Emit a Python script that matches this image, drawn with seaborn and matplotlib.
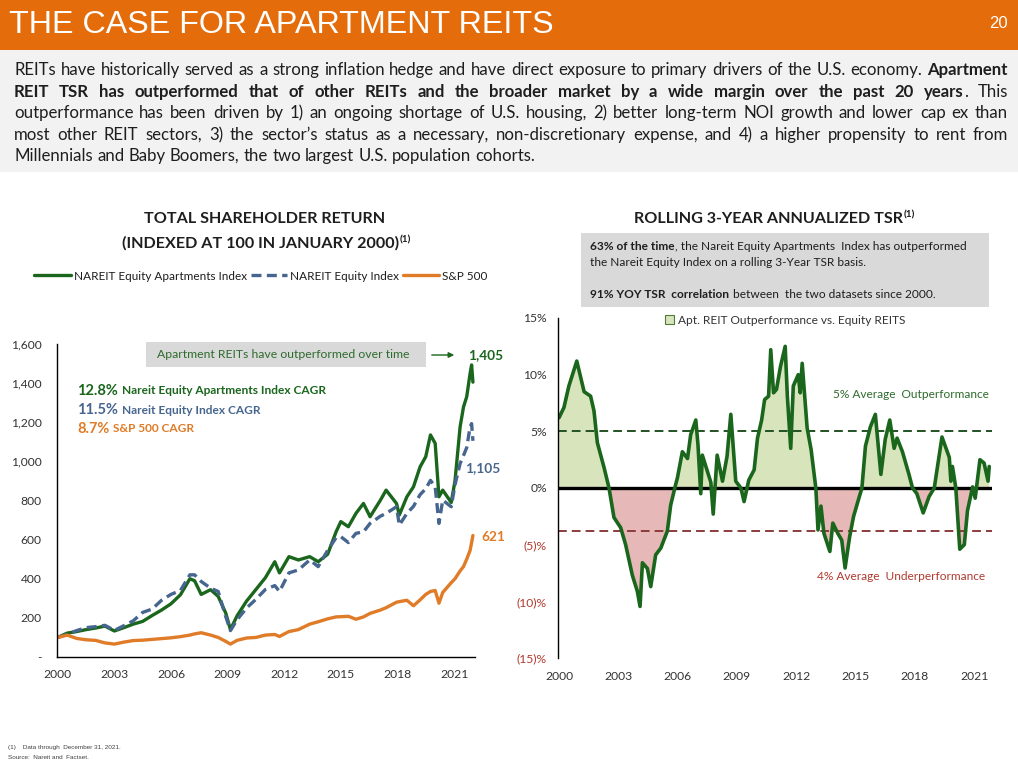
import matplotlib
matplotlib.use("Agg")
import matplotlib.pyplot as plt
from matplotlib.patches import Rectangle, Patch, FancyArrowPatch
from matplotlib.lines import Line2D
from matplotlib import font_manager
import seaborn as sns
import numpy as np
import pandas as pd

# ---------------------------------------------------------------- data
tsr_dates = [2000.0, 2000.5, 2001.0, 2001.5, 2002.0, 2002.5, 2003.0, 2003.5, 2004.0, 2004.5,
             2005.0, 2005.5, 2006.0, 2006.5, 2007.0, 2007.25, 2007.6, 2008.1, 2008.5, 2008.9,
             2009.15, 2009.5, 2010.0, 2010.5, 2011.0, 2011.5, 2011.75, 2012.25, 2012.75, 2013.35,
             2013.8, 2014.3, 2014.75, 2015.0, 2015.4, 2015.8, 2016.2, 2016.55, 2017.1, 2017.4,
             2017.95, 2018.1, 2018.5, 2018.85, 2019.2, 2019.5, 2019.75, 2020.0, 2020.2, 2020.4,
             2020.85, 2021.05, 2021.32, 2021.5, 2021.67, 2021.85, 2021.93, 2022.0]
apt_index = [100, 122, 130, 140, 148, 158, 133, 150, 168, 182,
             212, 240, 272, 318, 400, 390, 320, 344, 310, 225,
             140, 210, 285, 345, 405, 487, 430, 513, 496, 513,
             487, 525, 640, 692, 666, 734, 785, 717, 802, 853,
             785, 726, 819, 870, 972, 1024, 1135, 1092, 819, 853,
             790, 900, 1176, 1278, 1330, 1449, 1493, 1405]
equity_index = [100, 115, 135, 150, 155, 162, 136, 160, 185, 228,
                245, 290, 320, 340, 420, 420, 386, 352, 335, 207,
                135, 190, 250, 295, 345, 365, 335, 430, 445, 496,
                462, 545, 610, 615, 585, 632, 640, 683, 720, 734,
                768, 674, 734, 770, 830, 860, 903, 870, 683, 802,
                768, 880, 989, 1030, 1070, 1176, 1193, 1105]
sp500_index = [100, 112, 95, 88, 85, 72, 66, 76, 84, 86,
               90, 94, 98, 104, 112, 118, 124, 112, 100, 80,
               66, 85, 97, 100, 112, 115, 105, 130, 140, 168,
               180, 195, 205, 206, 208, 193, 205, 223, 240, 252,
               280, 283, 290, 262, 292, 320, 335, 340, 275, 330,
               380, 400, 440, 462, 500, 545, 585, 621]
series_names = ["NAREIT Equity Apartments Index", "NAREIT Equity Index", "S&P 500"]
end_labels = ["1,405", "1,105", "621"]
cagr_values = ["12.8%", "11.5%", "8.7%"]
cagr_names = ["Nareit Equity Apartments Index CAGR", "Nareit Equity Index CAGR", "S&P 500 CAGR"]
tsr_yticks = [0, 200, 400, 600, 800, 1000, 1200, 1400, 1600]
tsr_yticklabels = ["-", "200", "400", "600", "800", "1,000", "1,200", "1,400", "1,600"]
year_ticks = [2000, 2003, 2006, 2009, 2012, 2015, 2018, 2021]

roll_dates = [2000.0, 2000.25, 2000.5, 2000.9, 2001.27, 2001.6, 2001.77, 2001.94, 2002.28, 2002.53,
              2002.78, 2003.12, 2003.37, 2003.71, 2003.96, 2004.1, 2004.22, 2004.47, 2004.64, 2004.89,
              2005.15, 2005.48, 2005.65, 2005.9, 2005.99, 2006.24, 2006.5, 2006.66, 2006.92, 2007.03,
              2007.17, 2007.25, 2007.5, 2007.68, 2007.8, 2008.0, 2008.27, 2008.5, 2008.69, 2008.94,
              2009.2, 2009.36, 2009.6, 2009.87, 2010.04, 2010.25, 2010.4, 2010.6, 2010.71, 2010.85,
              2011.0, 2011.2, 2011.44, 2011.55, 2011.72, 2011.85, 2012.1, 2012.2, 2012.3, 2012.55,
              2012.75, 2012.99, 2013.1, 2013.25, 2013.4, 2013.7, 2013.85, 2014.1, 2014.3, 2014.47,
              2014.7, 2014.9, 2015.1, 2015.32, 2015.5, 2015.75, 2016.0, 2016.28, 2016.5, 2016.73,
              2016.95, 2017.1, 2017.37, 2017.7, 2017.88, 2018.1, 2018.42, 2018.72, 2018.98, 2019.37,
              2019.74, 2019.82, 2019.9, 2020.07, 2020.27, 2020.5, 2020.66, 2020.92, 2021.05, 2021.29,
              2021.5, 2021.7, 2021.76]
roll_outperf = [6.2, 7.1, 9.0, 11.2, 8.5, 8.1, 6.8, 4.0, 1.8, 0.0,
                -2.6, -3.5, -5.0, -7.7, -9.1, -10.45, -6.6, -7.1, -8.7, -5.9,
                -5.3, -3.8, -1.5, 0.3, 0.9, 3.2, 2.6, 4.7, 6.0, 3.8,
                -0.5, 2.9, 1.5, 0.5, -2.3, 2.9, 0.6, 2.8, 6.5, 0.6,
                0.0, -1.2, 0.7, 1.6, 4.4, 6.0, 7.8, 8.1, 12.2, 8.4,
                8.7, 10.7, 12.5, 8.1, 3.5, 9.0, 10.0, 8.4, 11.0, 5.3,
                3.4, 0.0, -3.7, -1.6, -4.0, -5.6, -3.1, -4.0, -4.6, -7.06,
                -4.3, -2.5, -1.3, 0.0, 3.7, 5.4, 6.5, 1.2, 4.3, 6.0,
                3.5, 4.4, 3.2, 1.2, 0.0, -0.5, -2.2, -0.75, 0.0, 4.5,
                2.7, 0.6, 1.9, 0.0, -5.4, -5.0, -2.0, 0.1, -0.9, 2.5,
                2.2, 0.6, 1.9]
avg_outperf = 5.0
avg_underperf = -3.8
roll_yticks = [-15, -10, -5, 0, 5, 10, 15]
roll_yticklabels = ["(15)%", "(10)%", "(5)%", "0%", "5%", "10%", "15%"]
roll_legend_label = "Apt. REIT Outperformance vs. Equity REITS"

# ---------------------------------------------------------------- style
W, H = 1018, 768
sns.set_theme(style="white")
plt.rcParams['font.family'] = ['Lato', 'DejaVu Sans']

HEADER = "#E46C0A"
GREEN = "#1A661C"
BLUE = "#46658F"
ORANGE = "#E07B27"
LIGHT_GREEN = "#D8E4BC"
LIGHT_RED = "#E6B8B7"
DARK_RED = "#B03A2E"
TXT = "#1E1E1E"
TICK = "#333333"
SMALL = 8.7

fig = plt.figure(figsize=(W / 100, H / 100), dpi=100)
fig.patch.set_facecolor("white")
renderer = fig.canvas.get_renderer()


def fx(px):
    return px / W


def fy(py):
    return 1 - py / H


def measure(s, **kw):
    t = fig.text(0, 0, s, **kw)
    w = t.get_window_extent(renderer).width
    t.remove()
    return w


names = {f.name for f in font_manager.fontManager.ttflist}
narrow = ['Liberation Sans Narrow', 'Liberation Sans'] if 'Liberation Sans Narrow' in names else ['Liberation Sans']

# ---------------------------------------------------------------- header
fig.add_artist(Rectangle((0, fy(50)), 1, 50 / H, transform=fig.transFigure,
                         facecolor=HEADER, edgecolor="none", zorder=0))
title = "THE CASE FOR APARTMENT REITS"
tw = measure(title, fontsize=22, family=narrow)
fig.text(fx(9), fy(25), title, fontsize=22 * 544 / tw, family=narrow, color="white",
         va="center", ha="left")
fig.text(fx(998), fy(24), "20", fontsize=12, family=narrow, color="white", va="center", ha="center")

# ---------------------------------------------------------------- paragraph
fig.add_artist(Rectangle((0, fy(172)), 1, 122 / H, transform=fig.transFigure,
                         facecolor="#F2F2F2", edgecolor="none", zorder=0))
para = [
    "REITs have historically served as a strong inflation hedge and have direct exposure to primary drivers of the U.S. economy. **Apartment**",
    "**REIT TSR has outperformed that of other REITs and the broader market by a wide margin over the past 20 years**. This",
    "outperformance has been driven by 1) an ongoing shortage of U.S. housing, 2) better long-term NOI growth and lower cap ex than",
    "most other REIT sectors, 3) the sector\u2019s status as a necessary, non-discretionary expense, and 4) a higher propensity to rent from",
    "Millennials and Baby Boomers, the two largest U.S. population cohorts.",
]


def parse(line):
    words, bold = [], False
    for raw in line.split(" "):
        pieces = []
        for i, p in enumerate(raw.split("**")):
            if i > 0:
                bold = not bold
            if p:
                pieces.append((p, bold))
        words.append(pieces)
    return words


def draw_para(lines, x0, x1, baselines, size, color):
    parsed = [parse(l) for l in lines]
    sp = measure("n n", fontsize=size) - measure("nn", fontsize=size)
    allw = []
    for words in parsed:
        allw.append([[measure(p, fontsize=size, fontweight="bold" if b else "normal") for p, b in w]
                     for w in words])
    nat = max(sum(sum(ws) for ws in wl) + sp * (len(wl) - 1) for wl in allw[:-1])
    scale = min(1.0, (x1 - x0) * 0.99 / nat)
    size *= scale
    sp *= scale
    for i, (words, wl, yb) in enumerate(zip(parsed, allw, baselines)):
        wl = [[v * scale for v in ws] for ws in wl]
        tot = sum(sum(ws) for ws in wl)
        gap = sp if i == len(parsed) - 1 else (x1 - x0 - tot) / (len(words) - 1)
        x = x0
        for w, ws in zip(words, wl):
            for (p, b), pw in zip(w, ws):
                fig.text(fx(x), fy(yb), p, fontsize=size, fontweight="bold" if b else "normal",
                         color=color, va="baseline", ha="left")
                x += pw
            x += gap


draw_para(para, 14, 1008, [75, 97, 118, 140, 161], 12.5, TXT)

# ---------------------------------------------------------------- left chart
axL = fig.add_axes([fx(57), fy(657), (475 - 57) / W, (657 - 344) / H])
axL.set_facecolor("none")
df = pd.DataFrame({
    "date": tsr_dates * 3,
    "value": apt_index + equity_index + sp500_index,
    "series": [series_names[0]] * len(tsr_dates) + [series_names[1]] * len(tsr_dates)
              + [series_names[2]] * len(tsr_dates),
})
palette = {series_names[0]: GREEN, series_names[1]: BLUE, series_names[2]: ORANGE}
dashes = {series_names[0]: "", series_names[1]: (3, 1.6), series_names[2]: ""}
sns.lineplot(data=df, x="date", y="value", hue="series", style="series", hue_order=series_names,
             style_order=series_names, palette=palette, dashes=dashes, linewidth=2.4,
             ax=axL, legend=False)
axL.set_xlim(1999.96, 2022.11)
axL.set_ylim(0, 1600)
axL.set_xticks(year_ticks)
axL.set_xticklabels([str(y) for y in year_ticks])
axL.set_yticks(tsr_yticks)
axL.set_yticklabels(tsr_yticklabels)
axL.set_xlabel("")
axL.set_ylabel("")
sns.despine(ax=axL)
for s in ["left", "bottom"]:
    axL.spines[s].set_color("black")
    axL.spines[s].set_linewidth(1.0)
axL.tick_params(axis="y", length=0, pad=11, labelsize=SMALL, labelcolor=TICK)
axL.tick_params(axis="x", length=0, pad=9, labelsize=SMALL, labelcolor=TICK)


def centered_with_sup(cx, yb, main, size, sup="(1)"):
    w1 = measure(main, fontsize=size, fontweight="bold")
    w2 = measure(sup, fontsize=size * 0.62, fontweight="bold")
    x0 = cx - (w1 + w2) / 2
    fig.text(fx(x0), fy(yb), main, fontsize=size, fontweight="bold", color=TXT, va="baseline")
    fig.text(fx(x0 + w1 + 1), fy(yb - 6), sup, fontsize=size * 0.62, fontweight="bold",
             color=TXT, va="baseline")


ts = 11 * 278 / measure("(INDEXED AT 100 IN JANUARY 2000)", fontsize=11, fontweight="bold")
fig.text(fx(265), fy(223), "TOTAL SHAREHOLDER RETURN", fontsize=ts, fontweight="bold",
         color=TXT, va="baseline", ha="center")
centered_with_sup(266, 248, "(INDEXED AT 100 IN JANUARY 2000)", ts)

handles = [Line2D([], [], color=GREEN, lw=2.4),
           Line2D([], [], color=BLUE, lw=2.4, dashes=(3, 1.6)),
           Line2D([], [], color=ORANGE, lw=2.4)]
fig.legend(handles, series_names, loc="center", bbox_to_anchor=(fx(261), fy(276)),
           bbox_transform=fig.transFigure, ncol=3, frameon=False, fontsize=8.5,
           handlelength=3.1, handletextpad=0.25, columnspacing=0.3, labelcolor=TXT)

# annotation box and arrow
fig.add_artist(Rectangle((fx(146), fy(367)), (426 - 146) / W, 25 / H, transform=fig.transFigure,
                         facecolor="#D9D9D9", edgecolor="none"))
fig.text(fx(157), fy(355), "Apartment REITs have outperformed over time", fontsize=8.8,
         color="#2E6B2E", va="center", ha="left")
fig.add_artist(FancyArrowPatch((fx(429), fy(355)), (fx(457), fy(355)), transform=fig.transFigure,
                               arrowstyle="-|>", mutation_scale=8, color=GREEN, lw=1))
end_pos = [(486, 355), (483, 468), (493, 537)]
for lab, (x, y), c in zip(end_labels, end_pos, [GREEN, BLUE, ORANGE]):
    fig.text(fx(x), fy(y), lab, fontsize=9.8, fontweight="bold", color=c, va="center", ha="center")

# CAGR text
cagr_y = [391, 410, 429]
for val, name, y, c in zip(cagr_values, cagr_names, cagr_y, [GREEN, BLUE, ORANGE]):
    w = measure(val, fontsize=10.5, fontweight="bold")
    fig.text(fx(77), fy(y), val, fontsize=10.5, fontweight="bold", color=c, va="center")
    fig.text(fx(77 + w + 4), fy(y), name, fontsize=8.6, fontweight="bold", color=c, va="center")

# ---------------------------------------------------------------- right chart
axR = fig.add_axes([fx(558), fy(658), (992 - 558) / W, (658 - 318) / H])
axR.set_facecolor("none")
rd = np.array(roll_dates)
rv = np.array(roll_outperf)
axR.fill_between(rd, rv, 0, where=rv >= 0, interpolate=True, color=LIGHT_GREEN, lw=0)
axR.fill_between(rd, rv, 0, where=rv <= 0, interpolate=True, color=LIGHT_RED, lw=0)
axR.axhline(avg_outperf, color="#245224", lw=1.4, dashes=(4.5, 2.6))
axR.axhline(avg_underperf, color="#8C3B3B", lw=1.4, dashes=(4.5, 2.6))
axR.axhline(0, color="black", lw=2.4)
sns.lineplot(x=rd, y=rv, color=GREEN, linewidth=2.6, ax=axR)
axR.set_xlim(1999.95, 2021.9)
axR.set_ylim(-15, 15)
axR.set_xticks(year_ticks)
axR.set_xticklabels([str(y) for y in year_ticks])
axR.set_yticks(roll_yticks)
axR.set_yticklabels(roll_yticklabels)
sns.despine(ax=axR, bottom=True)
axR.spines["left"].set_color("black")
axR.spines["left"].set_linewidth(1.0)
axR.tick_params(axis="y", length=0, pad=8, labelsize=SMALL)
axR.tick_params(axis="x", length=0, pad=9, labelsize=SMALL, labelcolor=TICK)
for lab, v in zip(axR.get_yticklabels(), roll_yticks):
    lab.set_color(DARK_RED if v < 0 else TICK)

axR.legend(handles=[Patch(facecolor=LIGHT_GREEN, edgecolor="#4F7A3A", lw=0.8)],
           labels=[roll_legend_label], loc="center", bbox_to_anchor=(fx(785), fy(320)),
           bbox_transform=fig.transFigure, frameon=False, fontsize=8.6, handlelength=0.8,
           handleheight=0.8, handletextpad=0.3, labelcolor=TICK)

fig.text(fx(989), fy(394), "5% Average  Outperformance", fontsize=8.6, color="#2E6B2E",
         va="center", ha="right")
fig.text(fx(985), fy(577), "4% Average  Underperformance", fontsize=8.6, color=DARK_RED,
         va="center", ha="right")

centered_with_sup(774, 223, "ROLLING 3-YEAR ANNUALIZED TSR", ts)

fig.add_artist(Rectangle((fx(581), fy(307)), (989 - 581) / W, 74 / H, transform=fig.transFigure,
                         facecolor="#D9D9D9", edgecolor="none"))
bs = 8.6
b1 = "63% of the time"
w = measure(b1, fontsize=bs, fontweight="bold")
fig.text(fx(590), fy(250), b1, fontsize=bs, fontweight="bold", color=TXT, va="baseline")
fig.text(fx(590 + w), fy(250), ", the Nareit Equity Apartments  Index has outperformed",
         fontsize=bs, color=TXT, va="baseline")
fig.text(fx(590), fy(266), "the Nareit Equity Index on a rolling 3-Year TSR basis.", fontsize=bs,
         color=TXT, va="baseline")
b2 = "91% YOY TSR  correlation"
w = measure(b2, fontsize=bs, fontweight="bold")
fig.text(fx(590), fy(298), b2, fontsize=bs, fontweight="bold", color=TXT, va="baseline")
fig.text(fx(590 + w + 4), fy(298), "between  the two datasets since 2000.", fontsize=bs,
         color=TXT, va="baseline")

# ---------------------------------------------------------------- footnotes
fig.text(fx(8), fy(748), "(1)    Data through  December 31, 2021.", fontsize=4.6,
         family=["Liberation Sans"], color="#404040", va="center")
fig.text(fx(8), fy(757.5), "Source:  Nareit and  Factset.", fontsize=4.6,
         family=["Liberation Sans"], color="#404040", va="center")

fig.savefig("out.png", dpi=100)
